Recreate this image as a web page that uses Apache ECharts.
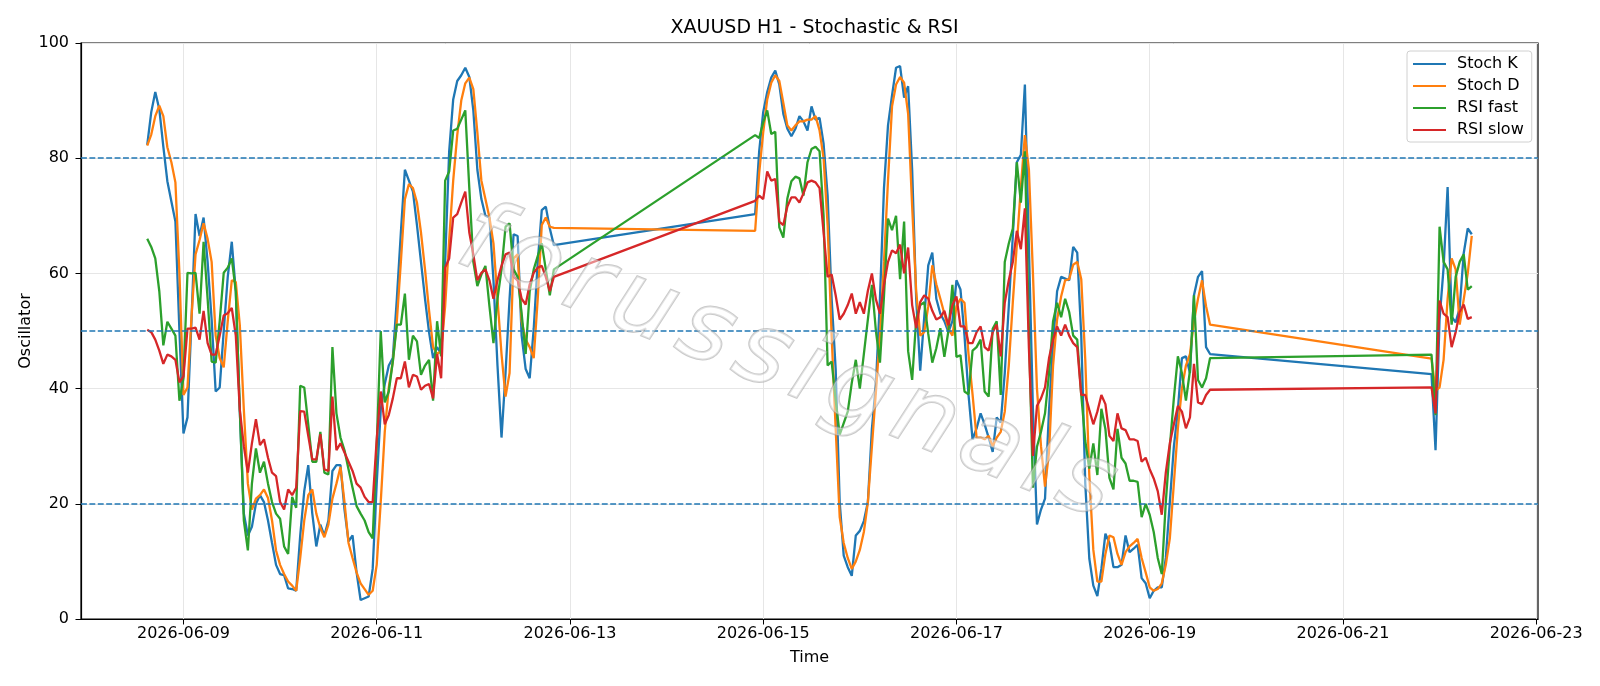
<!DOCTYPE html>
<html>
<head>
<meta charset="utf-8">
<title>XAUUSD H1 - Stochastic & RSI</title>
<script src="https://cdn.jsdelivr.net/npm/echarts@6/dist/echarts.min.js"></script>
<style>
  html, body { margin: 0; padding: 0; background: #fff; }
  #chart { width: 1600px; height: 686px; }
</style>
</head>
<body>
<div id="chart"></div>
<script>
// hours counted from 2026-06-09 00:00, one bar per hour inside each session
const sessions = [[-9, 92], [142, 255], [310, 320]];
const tickHours = [0, 48, 96, 144, 192, 240, 288, 336];
const levels = [20, 50, 80];

const stochK = [
  82.3, 88, 91.5, 88.5, 82, 76, 72.5, 69, 50, 32.2,
  35, 52, 70.3, 66.5, 69.7, 62, 52, 39.5, 40.2, 50,
  59.4, 65.5, 56.9, 36, 18.3, 14.5, 16, 20, 21.5, 20.3,
  17.1, 13.2, 9.4, 7.8, 7.6, 5.3, 5.2, 4.9, 14.5, 22.2,
  26.7, 18.3, 12.6, 16.4, 14.5, 17.1, 25.7, 26.7, 26.7, 19,
  13.5, 14.5, 8.1, 3.3, 3.6, 3.9, 8.7, 23.5, 36.3, 40.8,
  44, 45.3, 55.6, 67.1, 78, 76.1, 74.2, 68.4, 62, 55.6,
  49.8, 45.3, 47.2, 46, 62, 81.2, 90.2, 93.4, 94.4, 95.7,
  94.1, 88.3, 78, 72.9, 70, 69.7, 58.8, 44, 31.5, 42.7,
  55.6, 66.8, 66.5, 49.2, 43.4, 41.8, 50.4, 62, 71, 71.6,
  67.8, 64.9,
  70.3, 81.2, 88, 91.5, 94, 95.2, 92.8, 87.7, 85.1, 83.8,
  85.1, 87.3, 86.4, 84.8, 89, 86.7, 87, 82.5, 73.5, 55.6,
  43.4, 20.3, 11, 9, 7.5, 14.5, 15.3, 17, 20.3, 33,
  40.8, 55.6, 74.8, 85.7, 90.9, 95.7, 96, 90.5, 92.5, 78,
  55.6, 43.1, 52.4, 61.4, 63.6, 55.6, 53, 51.7, 49.8, 51.7,
  58.8, 57.2, 49.2, 38.9, 31.2, 33.1, 35.7, 33.8, 31.5, 29,
  35, 34.1, 42.7, 54.3, 66.5, 79.3, 80.6, 92.8, 64.6, 36.3,
  16.4, 19, 20.9, 36.3, 47.9, 56.9, 59.4, 59.1, 58.8, 64.6,
  63.6, 49.2, 23.5, 10.5, 5.8, 4, 8.7, 14.8, 13.2, 9,
  9, 9.4, 14.5, 11.6, 12.2, 12.9, 7.1, 6.2, 3.6, 4.9,
  5.5, 5.5, 10.6, 20.3, 29.9, 36.3, 45.3, 45.6, 42.7, 56.2,
  59.4, 60.4, 47.2, 46,
  42.5, 29.3, 52, 61, 75, 52.5, 51.5, 54, 63.5, 67.8, 66.8
];

const stochD = [
  82.2, 84.1, 87.3, 89.1, 87.3, 81.9, 79.3, 75.8, 60, 38.9,
  40.2, 52.4, 63.3, 65.8, 68.7, 66, 62, 49.2, 45.3, 43.7,
  51.7, 58.8, 58.5, 51, 36.3, 23.5, 19, 20.9, 21.5, 22.5,
  21, 17.1, 11.9, 9.4, 7.8, 6.5, 5.8, 4.9, 10.6, 17.1,
  21.5, 22.5, 18.3, 15.8, 14.2, 16.4, 20.9, 23.5, 26.4, 20.3,
  13.2, 10.6, 8.1, 6.2, 5.2, 4.2, 4.9, 9.4, 20.3, 32.5,
  40.2, 44.7, 51.7, 62, 72.9, 75.5, 74.8, 72.3, 67.1, 60.7,
  53.6, 47.2, 46, 46.6, 54.3, 65.8, 76.1, 84, 90, 93,
  94, 92, 84.5, 76.1, 72.9, 69.7, 65.2, 55.6, 46, 38.6,
  42.7, 62.6, 63.3, 51.7, 48.5, 47.2, 45.3, 55.6, 68.4, 69.7,
  68.1, 67.9,
  67.4, 77.4, 84.5, 90.2, 93.1, 94.4, 93.4, 89.6, 85.7, 84.8,
  85.7, 86.4, 86.4, 86.7, 86.7, 87.3, 84.8, 80, 68.4, 49.2,
  33.1, 17.7, 13.2, 10.6, 8.7, 10, 12, 15.1, 20.3, 29.9,
  39.5, 49.2, 62, 76.1, 89, 92.8, 94.1, 93.1, 87.7, 71.6,
  56.9, 49.2, 49.8, 54.3, 61.4, 58.1, 55.6, 53, 50.4, 49.2,
  54.3, 55.6, 54.9, 46, 39, 31.5, 31.5, 31.2, 31.8, 30,
  31.5, 32.5, 36, 44, 55, 65, 75, 84, 78, 60,
  40, 30, 23, 29, 44, 52, 56, 58.8, 59, 61.5,
  62, 59, 45, 25, 12, 6.5, 6.5, 11.3, 14.5, 14.2,
  11.3, 9.4, 11.6, 12.6, 13.2, 13.9, 10.6, 8.1, 5.5, 4.9,
  5.2, 6.2, 9.4, 14, 23.5, 33.1, 40, 44, 46, 51.7,
  55.6, 58.8, 54.3, 51.1,
  45.2, 39.6, 40.2, 45, 55.6, 62.6, 60.7, 51.1, 55.5, 60, 66.5
];

const rsiFast = [
  66, 64.6, 62.6, 56.9, 47.5, 51.6, 50.4, 49.2, 37.9, 41.8,
  60.1, 60, 60.1, 53, 65.5, 55.6, 44.7, 44.5, 51.7, 60.1,
  61, 62.6, 56.9, 36.3, 17.1, 11.9, 23.5, 29.6, 25.4, 27.3,
  23.5, 20.3, 18.3, 17.4, 12.6, 11.3, 21.2, 19.3, 40.5, 40.2,
  33.8, 27.3, 27.3, 32.5, 25.4, 25.1, 47.2, 35.7, 31.5, 29.3,
  26, 22.8, 19.6, 18.3, 17.1, 15.1, 14, 30, 50, 37.6,
  39.5, 44.7, 51.1, 51.1, 56.5, 45, 49.2, 48.2, 42.4, 44,
  45, 37.9, 51.7, 45.6, 76.1, 77.7, 84.8, 85.1, 86.7, 88.3,
  74.8, 62, 57.8, 59.8, 61.3, 54.3, 47.9, 55.6, 60.7, 68.1,
  68.7, 60.7, 59.4, 53, 46, 56.9, 60.7, 63, 65.2, 60.7,
  56.2, 60.7,
  84, 83.5, 86.2, 88.3, 84.2, 84.6, 68, 66.2, 73, 76,
  76.8, 76.5, 73.5, 79.3, 81.6, 82, 81.2, 70, 44, 44.7,
  38, 32, 34, 36, 41, 45, 40, 46, 52, 58,
  50, 44.5, 56, 69.5, 67.5, 70, 59, 69, 46.5, 41.5,
  52, 54.5, 55, 49.5, 44.5, 47, 50.5, 45.5, 50, 58,
  45.5, 45.8, 39.5, 39, 46.6, 47.2, 48.5, 39.5, 38.6, 50.4,
  51.7, 38.9, 62, 65.2, 67.8, 79.3, 72.3, 81.2, 50, 22.8,
  29.9, 32.5, 35.7, 42.7, 51.7, 54.9, 52.4, 55.6, 53.3, 49.2,
  48.5, 38.9, 30.9, 26.1, 30.5, 25, 36.5, 33, 24.5, 22.5,
  33, 28, 27, 24, 24, 23.8, 17.7, 20, 18.1, 15.1,
  10.6, 7.8, 20.3, 29.9, 38.3, 45.6, 42.7, 37.9, 43.1, 56.2,
  41.5, 40.2, 41.8, 45.3,
  45.9, 35.4, 68.1, 62, 60.7, 51.1, 59.4, 62, 63.3, 57.2, 57.8
];

const rsiSlow = [
  50.2, 49.8, 48.5, 46.6, 44.3, 45.9, 45.6, 45, 41.1, 42.1,
  50.4, 50.4, 50.6, 48.5, 53.5, 47.9, 45.9, 45.9, 49.2, 52.7,
  53.1, 54, 49.2, 36.3, 30, 25.4, 30.5, 34.7, 30.2, 31.2,
  28, 25.4, 24.8, 20.3, 19, 22.5, 21.5, 22.8, 36.1, 36,
  31.8, 27.7, 27.7, 32.1, 26, 25.7, 38.6, 29.3, 30.5, 28.9,
  27.3, 25.7, 23.5, 22.8, 21.2, 20.3, 20.3, 31.2, 39.5, 33.8,
  35.4, 38.3, 41.8, 41.8, 44.7, 40.2, 42.4, 42.1, 39.8, 40.5,
  40.8, 38.3, 46, 41.8, 61, 62.6, 69.7, 70.3, 72.3, 74.2,
  67.1, 63.3, 58.8, 60.1, 60.7, 58.8, 55.6, 58.8, 61.3, 63.3,
  63.6, 59.4, 58.8, 55.6, 54.6, 58.1, 60.1, 61, 61.3, 59.4,
  56.9, 59.4,
  72.6, 73.5, 72.9, 77.7, 76.1, 76.4, 69, 68.4, 71.6, 73.2,
  73.2, 72.3, 73.9, 75.8, 76.1, 75.8, 74.8, 67.1, 59.4, 59.8,
  56.2, 52, 53, 54.5, 56.5, 53, 55, 53, 57, 60,
  55.5, 53, 58, 62, 64, 63.5, 65, 60, 64.5, 54.5,
  50.5, 55, 56.2, 55.6, 53.5, 52, 52.4, 53.5, 51, 54.5,
  56, 50.8, 50.8, 47.9, 47.9, 49.8, 50.8, 47.2, 46.6, 49.8,
  51.1, 45.6, 54.9, 58.8, 62, 67.4, 64.2, 71.3, 47, 28.3,
  37, 38.3, 40.2, 45.3, 48.5, 50.8, 49.2, 51.1, 49.2, 47.9,
  47.2, 38.9, 38.9, 36.3, 33.8, 36, 38.9, 37.3, 31.8, 30.9,
  35.7, 33.1, 32.8, 31.2, 31.2, 30.9, 27.3, 28, 26, 24.4,
  22.2, 18.1, 25.4, 30.5, 33.8, 37, 36, 33.1, 35, 44.3,
  37.6, 37.3, 38.9, 39.8,
  40.2, 35.7, 55.3, 53, 52.4, 47.2, 49.8, 53.3, 54.6, 52.1, 52.4
];

// hour stamps for every bar
const hours = [];
sessions.forEach(([from, to]) => {
  for (let h = from; h <= to; h++) hours.push(h);
});

const pair = (vals) => vals.map((v, i) => [hours[i], v]);

const dateLabel = (h) => {
  const day = 9 + Math.round(h / 24);
  return '2026-06-' + String(day).padStart(2, '0');
};

const font = 'DejaVu Sans';

function makeLine(name, color, vals, extra) {
  return Object.assign({
    name: name,
    type: 'line',
    data: pair(vals),
    showSymbol: false,
    symbol: 'none',
    lineStyle: { color: color, width: 2.3 },
    itemStyle: { color: color },
    silent: true
  }, extra || {});
}

const myChart = echarts.init(document.getElementById('chart'), null, { renderer: 'canvas' });

myChart.setOption({
  animation: false,
  backgroundColor: '#fff',
  textStyle: { fontFamily: font },
  title: {
    text: 'XAUUSD H1 - Stochastic & RSI',
    left: 809.5,
    textAlign: 'center',
    top: 14,
    textStyle: { fontFamily: font, fontSize: 19, fontWeight: 'normal', color: '#000' }
  },
  legend: {
    orient: 'vertical',
    left: 1407,
    top: 51,
    padding: [5, 8, 4, 6],
    itemGap: 6,
    itemWidth: 33,
    itemHeight: 2,
    icon: 'rect',
    borderColor: '#d0d0d0',
    borderWidth: 1,
    borderRadius: 3,
    backgroundColor: 'rgba(255,255,255,0.85)',
    textStyle: { fontFamily: font, fontSize: 16, color: '#000', padding: [0, 0, 0, 6] },
    data: ['Stoch K', 'Stoch D', 'RSI fast', 'RSI slow']
  },
  grid: {
    left: 81,
    right: 62,
    top: 43,
    bottom: 67,
    show: true,
    borderColor: '#000',
    borderWidth: 1.2,
    backgroundColor: 'transparent'
  },
  xAxis: {
    type: 'value',
    min: -25.45,
    max: 336.45,
    name: 'Time',
    nameLocation: 'middle',
    nameGap: 31,
    nameMoveOverlap: false,
    nameTextStyle: { fontFamily: font, fontSize: 16, color: '#000' },
    axisLine: { show: true, onZero: false, lineStyle: { color: '#000', width: 1.2 } },
    axisTick: { show: true, length: 5.5, lineStyle: { color: '#000' }, customValues: tickHours },
    axisLabel: {
      customValues: tickHours,
      formatter: dateLabel,
      fontFamily: font,
      fontSize: 16,
      color: '#000',
      margin: 7
    },
    splitLine: { show: true, lineStyle: { color: '#e6e6e6', width: 1 } }
  },
  yAxis: {
    type: 'value',
    min: 0,
    max: 100,
    interval: 20,
    name: 'Oscillator',
    nameLocation: 'middle',
    nameGap: 47,
    nameMoveOverlap: false,
    nameRotate: 90,
    nameTextStyle: { fontFamily: font, fontSize: 16, color: '#000' },
    axisLine: { show: true, onZero: false, lineStyle: { color: '#000', width: 1.2 } },
    axisTick: { show: true, length: 5.5, lineStyle: { color: '#000' } },
    axisLabel: { fontFamily: font, fontSize: 16, color: '#000', margin: 12 },
    splitLine: { show: true, lineStyle: { color: '#e6e6e6', width: 1 } }
  },
  graphic: [
    {
      type: 'text',
      x: 786,
      y: 366,
      rotation: -0.38,
      z: 100,
      silent: true,
      style: {
        // hair spaces widen the watermark lettering
        text: 'forussignals'.split('').join('\u200A'),
        fontFamily: font,
        fontStyle: 'italic',
        fontSize: 98,
        align: 'center',
        verticalAlign: 'middle',
        fill: 'rgba(255,255,255,0.45)',
        stroke: 'rgba(150,150,150,0.5)',
        lineWidth: 2,
        shadowColor: 'rgba(0,0,0,0.2)',
        shadowBlur: 3,
        shadowOffsetX: 4,
        shadowOffsetY: 4
      }
    }
  ],
  series: [
    makeLine('Stoch K', '#1f77b4', stochK),
    makeLine('Stoch D', '#ff7f0e', stochD),
    makeLine('RSI fast', '#2ca02c', rsiFast),
    makeLine('RSI slow', '#d62728', rsiSlow, {
      markLine: {
        silent: true,
        symbol: 'none',
        label: { show: false },
        lineStyle: { color: '#1f77b4', type: [5.9, 2.5], width: 1.6 },
        data: levels.map((v) => ({ yAxis: v }))
      }
    })
  ]
});
</script>
</body>
</html>
